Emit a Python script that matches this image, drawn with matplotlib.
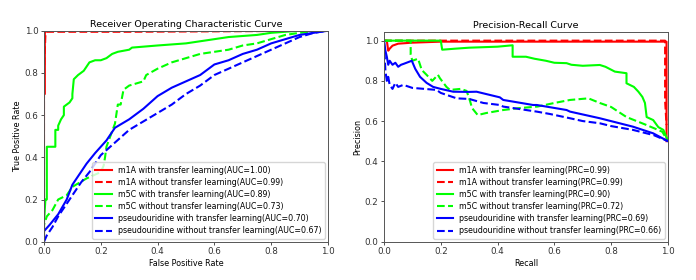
import matplotlib
matplotlib.use("Agg")
import matplotlib.pyplot as plt

# ---------------- ROC data ----------------
roc_m1a_tl_fpr = [0.0, 0.0, 0.003, 0.003, 0.01, 0.2, 1.0]
roc_m1a_tl_tpr = [0.0, 0.7, 0.7, 0.99, 1.0, 1.0, 1.0]

roc_m1a_no_fpr = [0.0, 0.0, 0.005, 0.01, 0.3, 0.6, 1.0]
roc_m1a_no_tpr = [0.0, 0.8, 0.98, 0.995, 0.995, 0.997, 1.0]

roc_m5c_tl_fpr = [0.0, 0.0, 0.005, 0.01, 0.01, 0.04, 0.04, 0.05, 0.05, 0.06, 0.07, 0.07,
                  0.08, 0.09, 0.1, 0.1, 0.105, 0.12, 0.13, 0.14, 0.15, 0.16, 0.18, 0.2,
                  0.22, 0.24, 0.26, 0.3, 0.31, 0.4, 0.5, 0.55, 0.6, 0.65, 0.75, 0.8,
                  0.9, 1.0]
roc_m5c_tl_tpr = [0.0, 0.09, 0.2, 0.2, 0.45, 0.45, 0.53, 0.53, 0.55, 0.58, 0.6, 0.64,
                  0.65, 0.66, 0.68, 0.7, 0.77, 0.79, 0.8, 0.81, 0.83, 0.85, 0.86, 0.86,
                  0.87, 0.89, 0.9, 0.91, 0.92, 0.93, 0.94, 0.95, 0.96, 0.97, 0.98, 0.99,
                  1.0, 1.0]

roc_m5c_no_fpr = [0.0, 0.0, 0.01, 0.03, 0.05, 0.08, 0.1, 0.15, 0.2, 0.21, 0.215, 0.22,
                  0.25, 0.26, 0.27, 0.28, 0.3, 0.35, 0.36, 0.4, 0.45, 0.5, 0.55, 0.6,
                  0.65, 0.7, 0.75, 0.8, 0.85, 0.9, 1.0]
roc_m5c_no_tpr = [0.0, 0.08, 0.12, 0.15, 0.2, 0.22, 0.26, 0.3, 0.33, 0.36, 0.4, 0.45,
                  0.56, 0.65, 0.65, 0.72, 0.74, 0.76, 0.79, 0.82, 0.85, 0.87, 0.89, 0.9,
                  0.91, 0.93, 0.94, 0.96, 0.98, 0.99, 1.0]

roc_pse_tl_fpr = [0.0, 0.0, 0.02, 0.05, 0.08, 0.1, 0.13, 0.15, 0.18, 0.2, 0.22, 0.25,
                  0.3, 0.35, 0.4, 0.45, 0.5, 0.55, 0.6, 0.65, 0.7, 0.75, 0.8, 0.85,
                  0.9, 1.0]
roc_pse_tl_tpr = [0.0, 0.05, 0.08, 0.13, 0.2, 0.27, 0.33, 0.37, 0.42, 0.45, 0.48, 0.54,
                  0.58, 0.63, 0.69, 0.73, 0.76, 0.79, 0.84, 0.86, 0.89, 0.91, 0.94, 0.96,
                  0.98, 1.0]

roc_pse_no_fpr = [0.0, 0.01, 0.03, 0.05, 0.08, 0.1, 0.13, 0.16, 0.2, 0.25, 0.3, 0.35,
                  0.4, 0.45, 0.5, 0.55, 0.6, 0.65, 0.7, 0.75, 0.8, 0.85, 0.9, 0.95, 1.0]
roc_pse_no_tpr = [0.0, 0.03, 0.07, 0.12, 0.18, 0.22, 0.28, 0.33, 0.41, 0.47, 0.53, 0.57,
                  0.61, 0.65, 0.7, 0.74, 0.79, 0.82, 0.85, 0.88, 0.91, 0.94, 0.97, 0.99, 1.0]

# ---------------- PR data ----------------
pr_m1a_tl_rec = [0.0, 0.01, 0.015, 0.02, 0.03, 0.05, 0.1, 0.2, 0.5, 0.995, 0.995, 0.995]
pr_m1a_tl_pre = [1.0, 1.0, 0.95, 0.96, 0.975, 0.985, 0.99, 0.995, 0.995, 0.995, 0.7, 0.5]

pr_m1a_no_rec = [0.0, 0.2, 0.5, 0.8, 0.99, 0.99, 0.995]
pr_m1a_no_pre = [1.0, 1.0, 1.0, 1.0, 1.0, 0.7, 0.58]

pr_m5c_tl_rec = [0.0, 0.2, 0.205, 0.25, 0.3, 0.4, 0.453, 0.453, 0.5, 0.53, 0.55, 0.57,
                 0.6, 0.643, 0.66, 0.7, 0.76, 0.78, 0.813, 0.854, 0.854, 0.88, 0.896,
                 0.91, 0.919, 0.925, 0.948, 0.966, 0.984, 0.996, 1.0]
pr_m5c_tl_pre = [1.0, 1.0, 0.955, 0.96, 0.965, 0.97, 0.977, 0.92, 0.92, 0.91, 0.905, 0.9,
                 0.89, 0.888, 0.88, 0.875, 0.879, 0.87, 0.846, 0.838, 0.788, 0.77, 0.746,
                 0.72, 0.69, 0.62, 0.605, 0.57, 0.556, 0.516, 0.51]

pr_m5c_no_rec = [0.0, 0.094, 0.094, 0.1, 0.12, 0.133, 0.15, 0.17, 0.19, 0.197, 0.22,
                 0.232, 0.27, 0.291, 0.303, 0.31, 0.33, 0.36, 0.42, 0.48, 0.54, 0.6,
                 0.655, 0.72, 0.76, 0.8, 0.854, 0.925, 0.98, 1.0]
pr_m5c_no_pre = [1.0, 1.0, 0.93, 0.9, 0.91, 0.854, 0.83, 0.8, 0.83, 0.813, 0.77,
                 0.755, 0.76, 0.75, 0.7, 0.665, 0.63, 0.64, 0.655, 0.665, 0.672, 0.69,
                 0.705, 0.713, 0.69, 0.67, 0.62, 0.58, 0.547, 0.5]

pr_pse_tl_rec = [0.0, 0.005, 0.01, 0.015, 0.02, 0.03, 0.04, 0.05, 0.06, 0.07, 0.098,
                 0.11, 0.127, 0.15, 0.173, 0.2, 0.244, 0.3, 0.326, 0.408, 0.42, 0.525,
                 0.538, 0.643, 0.655, 0.76, 0.877, 0.948, 1.0]
pr_pse_tl_pre = [1.0, 0.95, 0.92, 0.88, 0.9, 0.88, 0.89, 0.87, 0.88, 0.885, 0.9,
                 0.86, 0.82, 0.79, 0.77, 0.76, 0.746, 0.745, 0.746, 0.718, 0.705, 0.68,
                 0.68, 0.655, 0.647, 0.614, 0.572, 0.539, 0.5]

pr_pse_no_rec = [0.0, 0.005, 0.01, 0.015, 0.02, 0.03, 0.04, 0.05, 0.068, 0.1, 0.185,
                 0.2, 0.256, 0.3, 0.35, 0.408, 0.42, 0.538, 0.585, 0.655, 0.7, 0.76,
                 0.8, 0.877, 0.95, 1.0]
pr_pse_no_pre = [1.0, 0.85, 0.8, 0.82, 0.78, 0.76, 0.79, 0.77, 0.78, 0.765, 0.755,
                 0.74, 0.713, 0.71, 0.69, 0.68, 0.672, 0.647, 0.635, 0.614, 0.6, 0.589,
                 0.575, 0.556, 0.53, 0.5]

roc_labels = ["m1A with transfer learning(AUC=1.00)",
              "m1A without transfer learning(AUC=0.99)",
              "m5C with transfer learning(AUC=0.89)",
              "m5C without transfer learning(AUC=0.73)",
              "pseudouridine with transfer learning(AUC=0.70)",
              "pseudouridine without transfer learning(AUC=0.67)"]
pr_labels = ["m1A with transfer learning(PRC=0.99)",
             "m1A without transfer learning(PRC=0.99)",
             "m5C with transfer learning(PRC=0.90)",
             "m5C without transfer learning(PRC=0.72)",
             "pseudouridine with transfer learning(PRC=0.69)",
             "pseudouridine without transfer learning(PRC=0.66)"]

colors = ["red", "red", "lime", "lime", "blue", "blue"]
styles = ["-", "--", "-", "--", "-", "--"]

TICK = 6.3
LAB = 5.8
TITLE = 6.8
LEG = 5.7
LW = 1.5

fig = plt.figure(figsize=(6.96, 2.8), dpi=100)
ax1 = fig.add_axes([0.0632, 0.1368, 0.408, 0.7535])
ax2 = fig.add_axes([0.5517, 0.1368, 0.408, 0.7489])

roc_x = [roc_m1a_tl_fpr, roc_m1a_no_fpr, roc_m5c_tl_fpr, roc_m5c_no_fpr, roc_pse_tl_fpr, roc_pse_no_fpr]
roc_y = [roc_m1a_tl_tpr, roc_m1a_no_tpr, roc_m5c_tl_tpr, roc_m5c_no_tpr, roc_pse_tl_tpr, roc_pse_no_tpr]
pr_x = [pr_m1a_tl_rec, pr_m1a_no_rec, pr_m5c_tl_rec, pr_m5c_no_rec, pr_pse_tl_rec, pr_pse_no_rec]
pr_y = [pr_m1a_tl_pre, pr_m1a_no_pre, pr_m5c_tl_pre, pr_m5c_no_pre, pr_pse_tl_pre, pr_pse_no_pre]

for x, y, c, s, l in zip(roc_x, roc_y, colors, styles, roc_labels):
    ax1.plot(x, y, color=c, linestyle=s, lw=LW, label=l)
for x, y, c, s, l in zip(pr_x, pr_y, colors, styles, pr_labels):
    ax2.plot(x, y, color=c, linestyle=s, lw=LW, label=l)

ax1.set_xlim(0, 1)
ax1.set_ylim(0, 1)
ax2.set_xlim(0, 1)
ax2.set_ylim(0, 1.043)

ax1.set_title("Receiver Operating Characteristic Curve", fontsize=TITLE, pad=3)
ax1.set_xlabel("False Positive Rate", fontsize=LAB, labelpad=2)
ax1.set_ylabel("True Positive Rate", fontsize=LAB, labelpad=2)
ax2.set_title("Precision-Recall Curve", fontsize=TITLE, pad=3)
ax2.set_xlabel("Recall", fontsize=LAB, labelpad=2)
ax2.set_ylabel("Precision", fontsize=LAB, labelpad=2)

for ax in (ax1, ax2):
    ax.set_xticks([0, 0.2, 0.4, 0.6, 0.8, 1.0])
    ax.set_yticks([0, 0.2, 0.4, 0.6, 0.8, 1.0])
    ax.tick_params(labelsize=TICK, length=2.5, width=0.6, pad=1.5, colors="#333333")
    for sp in ax.spines.values():
        sp.set_linewidth(0.7)
        sp.set_color("#555555")
    leg = ax.legend(loc="lower right", fontsize=LEG, handlelength=2.1,
                    borderpad=0.4, labelspacing=0.4, handletextpad=0.8,
                    borderaxespad=0.4, framealpha=0.8)

fig.savefig("out.png", dpi=100)
